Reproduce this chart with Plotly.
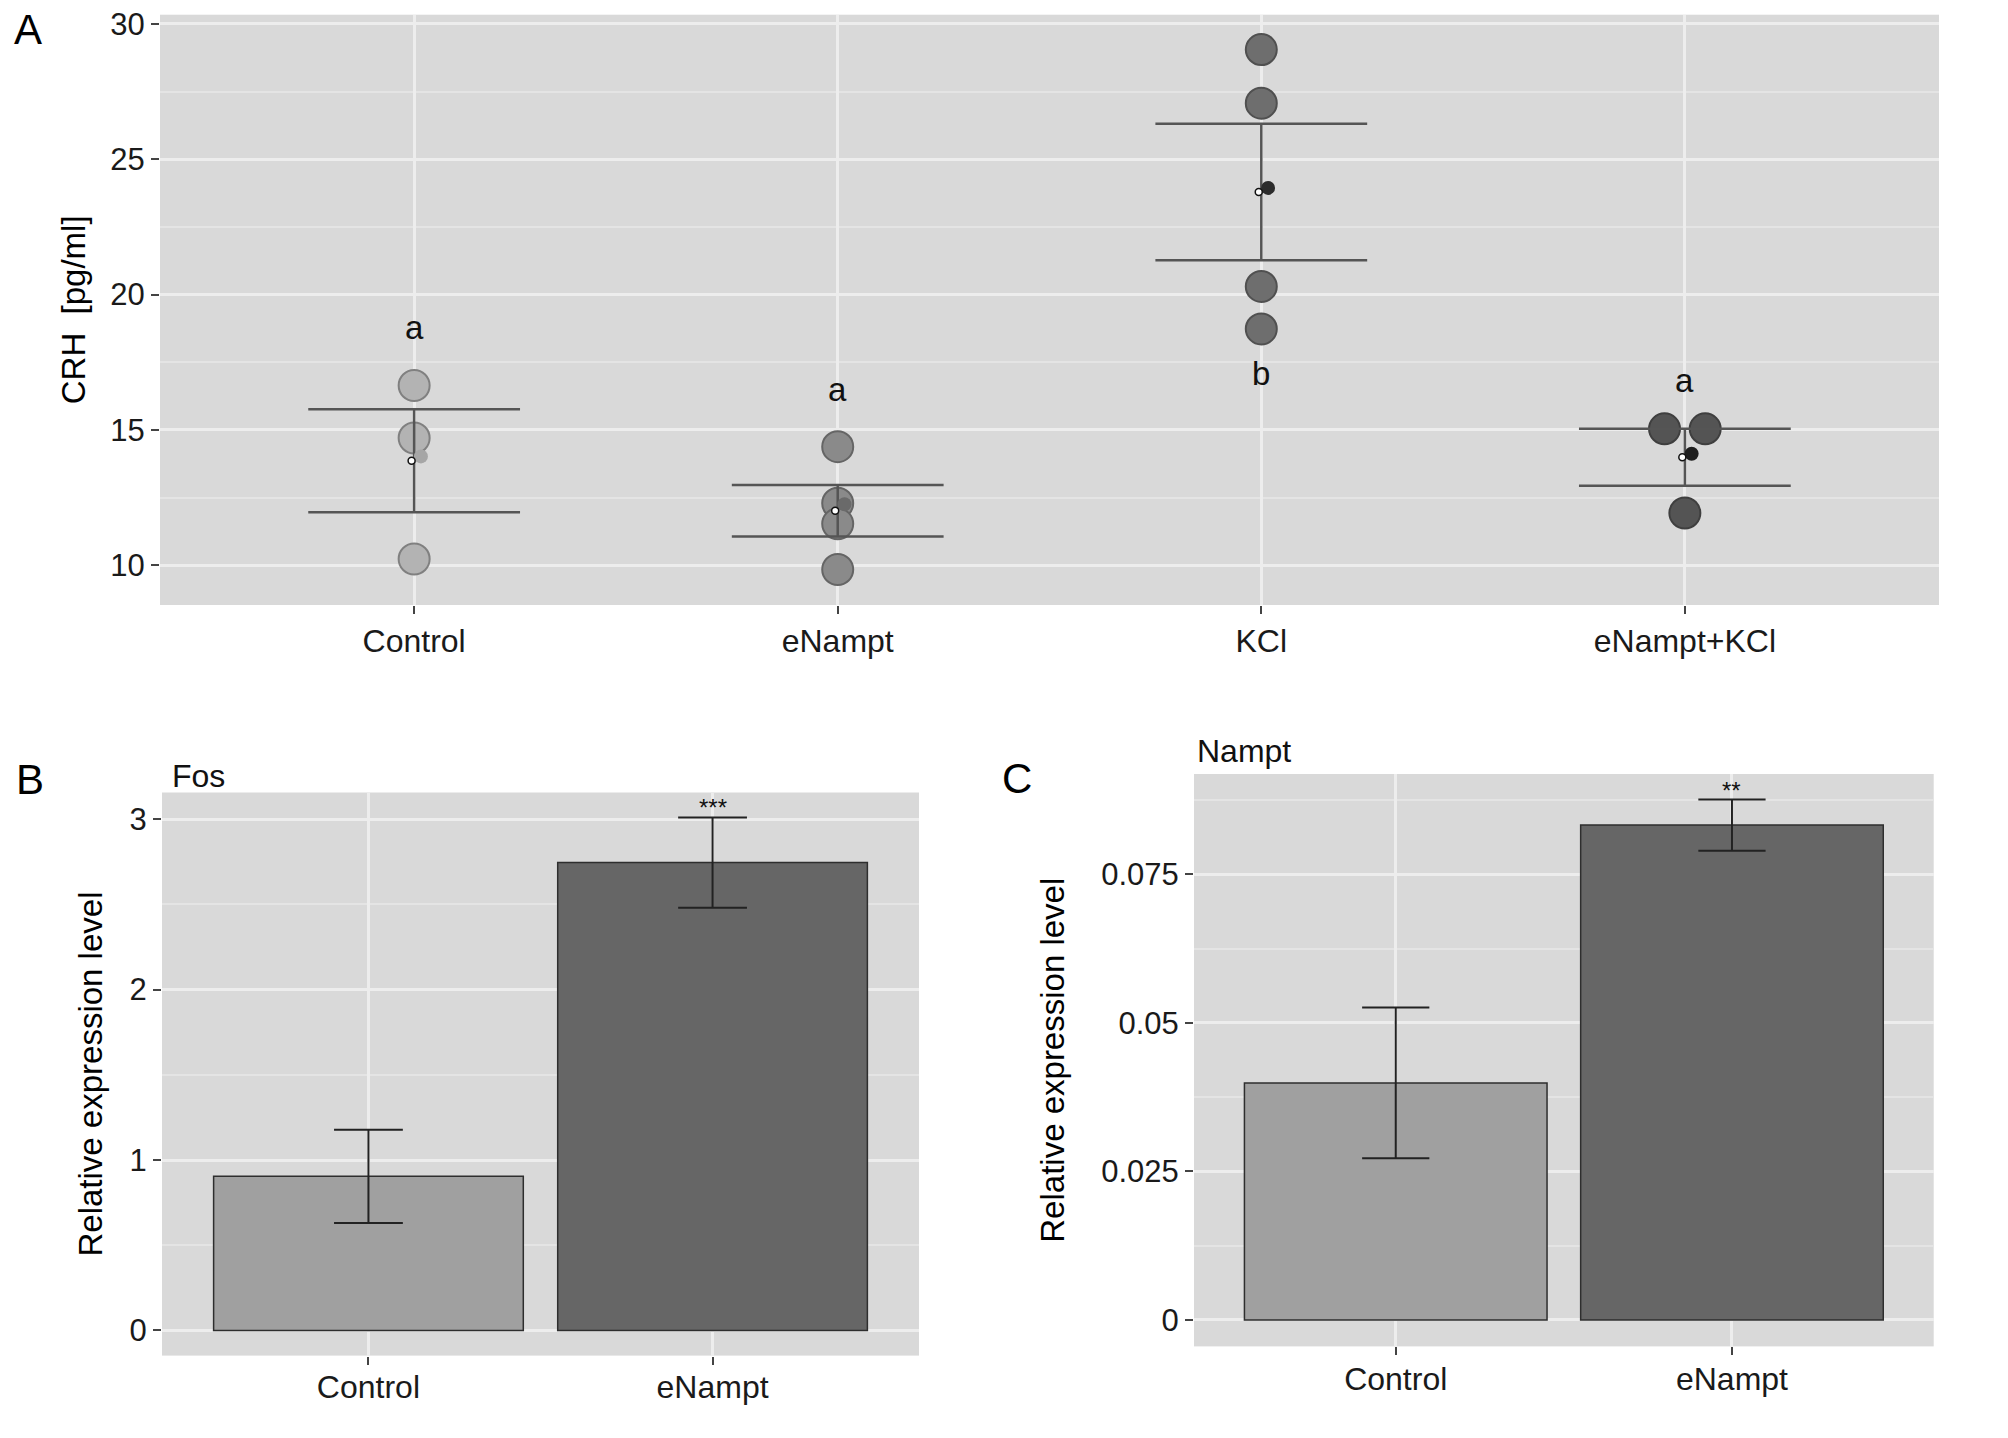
import plotly.graph_objects as go

# ---------------- data ----------------
groups = ["Control", "eNampt", "KCl", "eNampt+KCl"]
crh_control = [16.64, 14.70, 10.23]
crh_enampt = [14.38, 12.29, 11.53, 9.84]
crh_kcl = [29.05, 27.07, 20.30, 18.73]
crh_enampt_kcl = [15.04, 15.04, 11.93]
crh_mean = [13.86, 12.01, 23.79, 13.99]
crh_sem = [1.90, 0.95, 2.52, 1.05]
crh_mean_dot = [14.02, 12.25, 23.94, 14.12]
letters = ["a", "a", "b", "a"]
letter_y = [18.77, 16.49, 17.08, 16.83]
crh_ticks = [10, 15, 20, 25, 30]

bar_groups = ["Control", "eNampt"]
fos_mean = [0.904, 2.746]
fos_err = [0.274, 0.265]
fos_sig = ["", "***"]
fos_ticks = [0, 1, 2, 3]

nampt_mean = [0.0399, 0.0833]
nampt_err = [0.0127, 0.0043]
nampt_sig = ["", "**"]
nampt_ticks = [0, 0.025, 0.05, 0.075]
nampt_ticktext = ["0", "0.025", "0.05", "0.075"]

# ---------------- styles / layout constants ----------------
W, H = 2008, 1438
FONT = "Liberation Sans"
BG = "#D9D9D9"
GRID = "#EDEDED"
MINOR = "#E4E4E4"
point_fill = ["#B3B3B3", "#8A8A8A", "#6E6E6E", "#545454"]
point_line = ["#808080", "#656565", "#505050", "#3F3F3F"]
mean_dot_col = ["#A6A6A6", "#6A6A6A", "#2C2C2C", "#1E1E1E"]
dodge = [[0, 0, 0], [0, 0, 0, 0], [0, 0, 0, 0], [-0.048, 0.048, 0]]
mean_shift = 0.016

domA_x = [160 / W, 1939 / W]
domA_y = [1 - 605 / H, 1 - 14.7 / H]
domB_x = [162 / W, 919 / W]
domB_y = [1 - 1355.6 / H, 1 - 792.5 / H]
domC_x = [1194 / W, 1933.7 / W]
domC_y = [1 - 1346.4 / H, 1 - 774 / H]

rangeA_x = [-0.6, 3.6]
rangeA_y = [8.53, 30.34]
rangeB_x = [-0.6, 1.6]
rangeB_y = [-0.148, 3.157]
rangeC_x = [-0.6, 1.6]
rangeC_y = [-0.00446, 0.0919]

pxA = (domA_x[1] - domA_x[0]) * W / (rangeA_x[1] - rangeA_x[0])
pxB = (domB_x[1] - domB_x[0]) * W / (rangeB_x[1] - rangeB_x[0])
pxC = (domC_x[1] - domC_x[0]) * W / (rangeC_x[1] - rangeC_x[0])

fig = go.Figure()

# ---------------- panel A ----------------
all_points = [crh_control, crh_enampt, crh_kcl, crh_enampt_kcl]
for i, vals in enumerate(all_points):
    fig.add_trace(go.Scatter(
        x=[i + d for d in dodge[i]], y=vals, mode="markers",
        marker=dict(size=31, color=point_fill[i],
                    line=dict(color=point_line[i], width=2)),
        xaxis="x", yaxis="y", showlegend=False, hoverinfo="skip"))

fig.add_trace(go.Scatter(
    x=list(range(len(groups))), y=crh_mean, mode="markers",
    marker=dict(size=1, color="rgba(0,0,0,0)"),
    error_y=dict(type="data", array=crh_sem, visible=True,
                 width=0.25 * pxA, thickness=2.5, color="#555555"),
    xaxis="x", yaxis="y", showlegend=False, hoverinfo="skip"))

fig.add_trace(go.Scatter(
    x=[i + mean_shift for i in range(len(groups))], y=crh_mean_dot,
    mode="markers",
    marker=dict(size=14, color=mean_dot_col, line=dict(width=0)),
    xaxis="x", yaxis="y", showlegend=False, hoverinfo="skip"))

fig.add_trace(go.Scatter(
    x=[i - 0.006 for i in range(len(groups))], y=crh_mean, mode="markers",
    marker=dict(size=7, color="white", line=dict(color="#111111", width=1.5)),
    xaxis="x", yaxis="y", showlegend=False, hoverinfo="skip"))

# ---------------- panel B ----------------
xb = list(range(len(bar_groups)))
fig.add_trace(go.Bar(
    x=xb, y=fos_mean, width=0.9,
    marker=dict(color=["#A0A0A0", "#666666"], line=dict(color="#2E2E2E", width=1.5)),
    error_y=dict(type="data", array=fos_err, visible=True,
                 width=0.1 * pxB, thickness=2, color="#222222"),
    xaxis="x2", yaxis="y2", showlegend=False, hoverinfo="skip"))

# ---------------- panel C ----------------
fig.add_trace(go.Bar(
    x=xb, y=nampt_mean, width=0.9,
    marker=dict(color=["#A0A0A0", "#666666"], line=dict(color="#2E2E2E", width=1.5)),
    error_y=dict(type="data", array=nampt_err, visible=True,
                 width=0.1 * pxC, thickness=2, color="#222222"),
    xaxis="x3", yaxis="y3", showlegend=False, hoverinfo="skip"))

# ---------------- annotations ----------------
ann = []
for i, (t, yv) in enumerate(zip(letters, letter_y)):
    ann.append(dict(x=i, y=yv, xref="x", yref="y", text=t, showarrow=False,
                    font=dict(size=33, color="#111111", family=FONT),
                    xanchor="center", yanchor="middle"))
for i, (t, m, e) in enumerate(zip(fos_sig, fos_mean, fos_err)):
    if t:
        ann.append(dict(x=i, y=m + e, xref="x2", yref="y2", text=t, showarrow=False,
                        font=dict(size=24, color="#111111", family=FONT),
                        xanchor="center", yanchor="bottom", yshift=-6))
for i, (t, m, e) in enumerate(zip(nampt_sig, nampt_mean, nampt_err)):
    if t:
        ann.append(dict(x=i, y=m + e, xref="x3", yref="y3", text=t, showarrow=False,
                        font=dict(size=24, color="#111111", family=FONT),
                        xanchor="center", yanchor="bottom", yshift=-6))

panel_labels = [("A", 28 / W, 1 - 30 / H), ("B", 30 / W, 1 - 780 / H), ("C", 1017 / W, 1 - 779 / H)]
for t, px_, py_ in panel_labels:
    ann.append(dict(x=px_, y=py_, xref="paper", yref="paper", text=t, showarrow=False,
                    font=dict(size=42, color="#000000", family=FONT),
                    xanchor="center", yanchor="middle"))
ann.append(dict(x=170 / W, y=1 - 775.6 / H, xref="paper", yref="paper", text="Fos",
                showarrow=False, font=dict(size=32, color="#111111", family=FONT),
                xanchor="left", yanchor="middle"))
ann.append(dict(x=1195 / W, y=1 - 751 / H, xref="paper", yref="paper", text="Nampt",
                showarrow=False, font=dict(size=32, color="#111111", family=FONT),
                xanchor="left", yanchor="middle"))

# ---------------- axes ----------------
xtickfont = dict(size=32, color="#1A1A1A", family=FONT)
ytickfont = dict(size=31, color="#1A1A1A", family=FONT)
titlefont = dict(size=33, color="#000000", family=FONT)


def xax(dom, rng, labels, anchor, lab_off=0):
    return dict(domain=dom, range=rng, anchor=anchor,
                tickmode="array", tickvals=list(range(len(labels))), ticktext=labels,
                showgrid=True, gridcolor=GRID, gridwidth=2.5, zeroline=False,
                showline=False, ticks="outside", ticklen=8, tickwidth=1.5,
                tickcolor="#444444", tickfont=xtickfont, ticklabelstandoff=lab_off,
                fixedrange=True)


def yax(dom, rng, tv, tt, minor_vals, anchor, title, standoff):
    return dict(domain=dom, range=rng, anchor=anchor,
                tickmode="array", tickvals=tv, ticktext=tt,
                showgrid=True, gridcolor=GRID, gridwidth=2.5, zeroline=False,
                showline=False, ticks="outside", ticklen=8, tickwidth=1.5,
                tickcolor="#444444", tickfont=ytickfont,
                minor=dict(tickvals=minor_vals, showgrid=True, gridcolor=MINOR,
                           gridwidth=1.5, ticks=""),
                title=dict(text=title, font=titlefont, standoff=standoff),
                fixedrange=True)


crh_minor = [12.5, 17.5, 22.5, 27.5]
fos_minor = [0.5, 1.5, 2.5]
nampt_minor = [0.0125, 0.0375, 0.0625, 0.0875]

fig.update_layout(
    width=W, height=H,
    margin=dict(l=0, r=0, t=0, b=0, autoexpand=False),
    paper_bgcolor="white", plot_bgcolor=BG,
    font=dict(family=FONT, color="#111111"),
    bargap=0.1,
    xaxis=xax(domA_x, rangeA_x, groups, "y"),
    yaxis=yax(domA_y, rangeA_y, crh_ticks, [str(v) for v in crh_ticks], crh_minor,
              "x", "CRH\u00a0 [pg/ml]", 14),
    xaxis2=xax(domB_x, rangeB_x, bar_groups, "y2", -5),
    yaxis2=yax(domB_y, rangeB_y, fos_ticks, [str(v) for v in fos_ticks], fos_minor,
               "x2", "Relative expression level", 16),
    xaxis3=xax(domC_x, rangeC_x, bar_groups, "y3", -4),
    yaxis3=yax(domC_y, rangeC_y, nampt_ticks, nampt_ticktext, nampt_minor,
               "x3", "Relative expression level", 26),
    annotations=ann,
)

fig.write_html("out.html", config=dict(displayModeBar=False),
               post_script="document.body.style.margin='0';document.body.style.overflow='hidden';")
